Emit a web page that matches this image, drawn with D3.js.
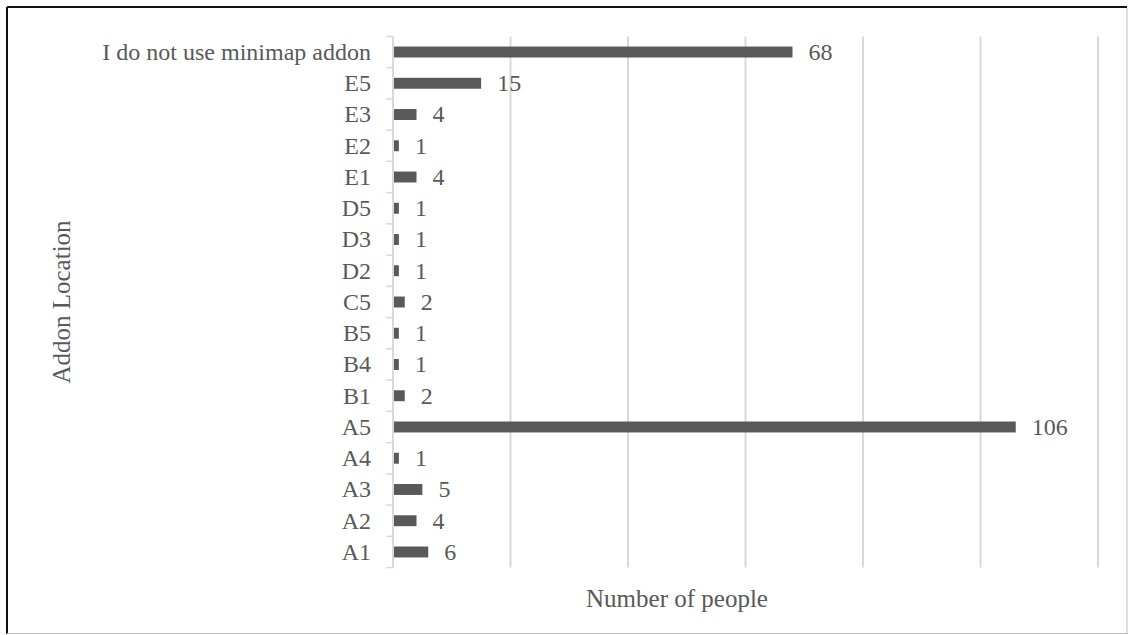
<!DOCTYPE html>
<html>
<head>
<meta charset="utf-8">
<script src="https://cdn.jsdelivr.net/npm/d3@7"></script>
<style>
  html, body { margin: 0; padding: 0; background: #fff; }
  svg { display: block; }
  text { font-family: "Liberation Serif", "Times New Roman", serif; fill: #595959; }
</style>
</head>
<body>
<svg id="chart" width="1128" height="635"></svg>
<script>
// Addon locations, bottom to top as listed on the axis
const categories = ["A1", "A2", "A3", "A4", "A5", "B1", "B4", "B5", "C5",
  "D2", "D3", "D5", "E1", "E2", "E3", "E5", "I do not use minimap addon"];
const counts = [6, 4, 5, 1, 106, 2, 1, 1, 2, 1, 1, 1, 4, 1, 4, 15, 68];
const xTicks = [0, 20, 40, 60, 80, 100, 120];
const xTitle = "Number of people";
const yTitle = "Addon Location";

const svg = d3.select("#chart");
const plot = { left: 393, right: 1098, top: 36.4, bottom: 567.6 };

// Frame: dark top/left edge, light right/bottom edge
svg.append("line").attr("x1", 7).attr("x2", 1127).attr("y1", 7).attr("y2", 7)
  .attr("stroke", "#111").attr("stroke-width", 2);
svg.append("line").attr("x1", 7).attr("x2", 7).attr("y1", 7).attr("y2", 634)
  .attr("stroke", "#111").attr("stroke-width", 2);
svg.append("line").attr("x1", 1127).attr("x2", 1127).attr("y1", 8).attr("y2", 634)
  .attr("stroke", "#bdbdbd").attr("stroke-width", 1);
svg.append("line").attr("x1", 7).attr("x2", 1127).attr("y1", 633.5).attr("y2", 633.5)
  .attr("stroke", "#bdbdbd").attr("stroke-width", 1);

const x = d3.scaleLinear().domain([0, 120]).range([plot.left, plot.right]);
const y = d3.scaleBand()
  .domain(categories.slice().reverse())
  .range([plot.top, plot.bottom])
  .paddingInner(0.65).paddingOuter(0.325);

// Vertical gridlines
svg.append("g").selectAll("line").data(xTicks.filter(d => d > 0)).join("line")
  .attr("x1", d => x(d)).attr("x2", d => x(d))
  .attr("y1", plot.top).attr("y2", plot.bottom)
  .attr("stroke", "#d9d9d9").attr("stroke-width", 2);

// Category axis with tick marks at band boundaries
const step = y.step();
const boundaries = d3.range(categories.length + 1).map(i => plot.top + i * step);
svg.append("line").attr("x1", plot.left).attr("x2", plot.left)
  .attr("y1", plot.top).attr("y2", plot.bottom)
  .attr("stroke", "#d9d9d9").attr("stroke-width", 2);
svg.append("g").selectAll("line").data(boundaries).join("line")
  .attr("x1", plot.left - 7).attr("x2", plot.left)
  .attr("y1", d => d).attr("y2", d => d)
  .attr("stroke", "#d9d9d9").attr("stroke-width", 1.5);

svg.append("g").selectAll("text").data(categories).join("text")
  .attr("x", plot.left - 22)
  .attr("y", d => y(d) + y.bandwidth() / 2)
  .attr("dy", "0.33em")
  .attr("text-anchor", "end")
  .attr("font-size", 24)
  .text(d => d);

// Bars
const rows = categories.map((c, i) => ({ c, v: counts[i] }));
svg.append("g").selectAll("rect").data(rows).join("rect")
  .attr("x", x(0) + 1)
  .attr("y", d => y(d.c))
  .attr("width", d => x(d.v) - x(0) - 1)
  .attr("height", y.bandwidth())
  .attr("fill", "#595959");

// Value labels
svg.append("g").selectAll("text").data(rows).join("text")
  .attr("x", d => x(d.v) + 16)
  .attr("y", d => y(d.c) + y.bandwidth() / 2)
  .attr("dy", "0.33em")
  .attr("font-size", 24)
  .text(d => d.v);

// Axis titles
svg.append("text")
  .attr("x", 677).attr("y", 607)
  .attr("text-anchor", "middle").attr("font-size", 25)
  .text(xTitle);

svg.append("text")
  .attr("transform", "translate(70,302) rotate(-90)")
  .attr("text-anchor", "middle").attr("font-size", 25)
  .text(yTitle);
</script>
</body>
</html>
